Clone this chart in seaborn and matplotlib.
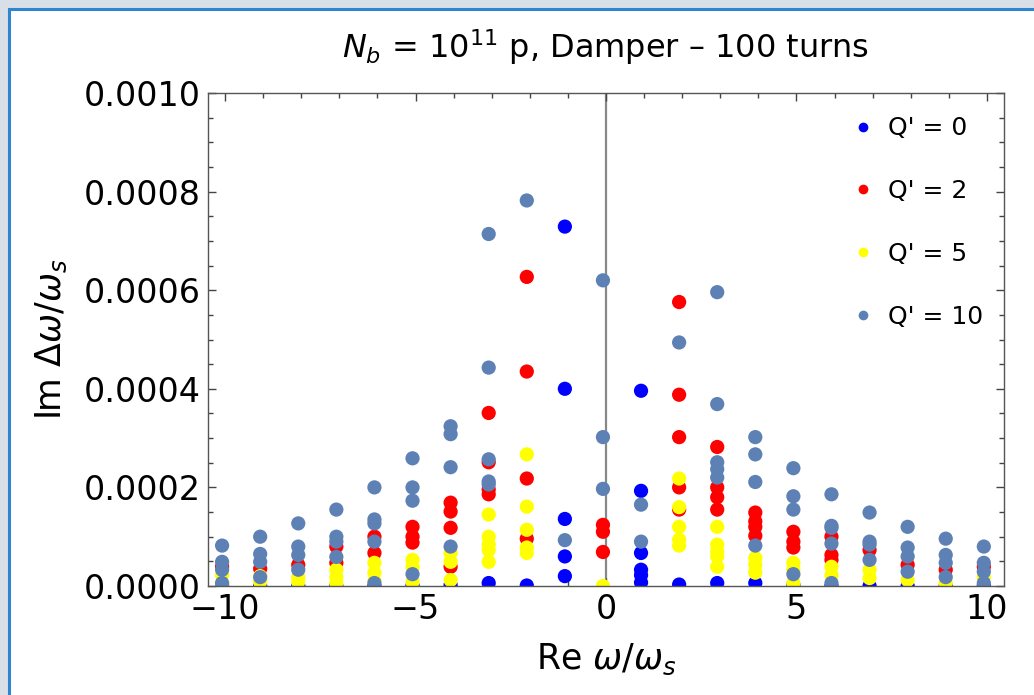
import matplotlib as mpl
import matplotlib.pyplot as plt
import numpy as np
import pandas as pd
import seaborn as sns
from matplotlib.lines import Line2D
from matplotlib.patches import Rectangle
from matplotlib.ticker import FormatStrFormatter, MultipleLocator

# Im values below are in units of 1e-4
IM_UNIT = 1e-4

# Q' = 0
re_q0 = [-10.08, -9.08, -8.08, -7.08, -6.08, -5.08, -4.08, -3.08, -2.08,
         -1.08, -1.08, -1.08, -1.08, -1.08,
         0.92, 0.92, 0.92, 0.92, 0.92, 0.92,
         1.92, 2.92, 3.92, 4.92, 5.92, 6.92, 7.92, 8.92, 9.92]
im_q0 = [0.0, 0.0, 0.0, 0.0, 0.0, 0.01, 0.02, 0.06, 0.01,
         7.29, 4.0, 1.36, 0.6, 0.2,
         3.96, 1.93, 0.67, 0.33, 0.22, 0.07,
         0.03, 0.06, 0.06, 0.02, 0.0, 0.0, 0.0, 0.0, 0.0]

# Q' = 2
re_q2 = [-10.08, -9.08, -8.08, -7.08, -7.08, -6.08, -6.08,
         -5.08, -5.08, -5.08, -4.08, -4.08, -4.08, -4.08,
         -3.08, -3.08, -3.08, -3.08, -2.08, -2.08, -2.08, -2.08,
         -0.08, -0.08, -0.08,
         1.92, 1.92, 1.92, 1.92, 1.92, 2.92, 2.92, 2.92, 2.92,
         3.92, 3.92, 3.92, 3.92, 4.92, 4.92, 4.92, 5.92, 5.92, 5.92,
         6.92, 7.92, 8.92, 9.92]
im_q2 = [0.39, 0.35, 0.43, 0.8, 0.47, 1.0, 0.67,
         1.2, 1.0, 0.88, 1.69, 1.51, 1.18, 0.39,
         3.51, 2.51, 1.96, 1.86, 6.27, 4.35, 2.18, 0.96,
         1.24, 1.1, 0.69,
         5.76, 3.88, 3.02, 2.0, 1.55, 2.82, 2.0, 1.8, 1.55,
         1.49, 1.31, 1.2, 1.02, 1.1, 0.9, 0.78, 1.0, 0.63, 0.53,
         0.73, 0.43, 0.33, 0.39]

# Q' = 5
re_q5 = [-10.08, -10.08, -9.08, -9.08, -8.08, -8.08, -7.08, -7.08, -7.08,
         -6.08, -6.08, -6.08, -5.08, -5.08, -5.08, -4.08, -4.08, -4.08,
         -3.08, -3.08, -3.08, -3.08, -3.08, -2.08, -2.08, -2.08, -2.08, -2.08,
         -0.08,
         1.92, 1.92, 1.92, 1.92, 1.92, 2.92, 2.92, 2.92, 2.92, 2.92,
         3.92, 3.92, 3.92, 4.92, 4.92, 4.92, 5.92, 5.92, 6.92, 6.92,
         7.92, 8.92, 9.92]
im_q5 = [0.22, 0.06, 0.2, 0.08, 0.18, 0.08, 0.33, 0.18, 0.06,
         0.47, 0.27, 0.1, 0.53, 0.39, 0.08, 0.67, 0.49, 0.12,
         1.45, 1.0, 0.84, 0.73, 0.49, 2.67, 1.61, 1.14, 0.78, 0.67,
         0.0,
         2.18, 1.6, 1.2, 0.94, 0.82, 1.2, 0.84, 0.7, 0.6, 0.39,
         0.57, 0.43, 0.27, 0.47, 0.33, 0.06, 0.39, 0.22, 0.33, 0.16,
         0.12, 0.06, 0.18]

# Q' = 10
re_q10 = [-10.08, -10.08, -10.08, -10.08, -9.08, -9.08, -9.08, -9.08,
          -8.08, -8.08, -8.08, -8.08, -7.08, -7.08, -7.08, -7.08,
          -6.08, -6.08, -6.08, -6.08, -6.08, -5.08, -5.08, -5.08, -5.08,
          -4.08, -4.08, -4.08, -4.08, -3.08, -3.08, -3.08, -3.08, -3.08,
          -2.08, -1.08, -0.08, -0.08, -0.08, 0.92, 0.92, 1.92,
          2.92, 2.92, 2.92, 2.92, 2.92, 3.92, 3.92, 3.92, 3.92,
          4.92, 4.92, 4.92, 4.92, 5.92, 5.92, 5.92, 5.92, 5.92,
          6.92, 6.92, 6.92, 6.92, 7.92, 7.92, 7.92, 7.92,
          8.92, 8.92, 8.92, 8.92, 9.92, 9.92, 9.92, 9.92]
im_q10 = [0.82, 0.49, 0.33, 0.06, 1.0, 0.65, 0.49, 0.18,
          1.27, 0.8, 0.63, 0.33, 1.55, 1.0, 0.9, 0.59,
          2.0, 1.35, 1.27, 0.9, 0.06, 2.59, 2.0, 1.73, 0.24,
          3.24, 3.08, 2.41, 0.8, 7.14, 4.43, 2.57, 2.12, 2.06,
          7.82, 0.93, 6.2, 3.02, 1.97, 1.65, 0.9, 4.94,
          5.96, 3.69, 2.51, 2.37, 2.2, 3.02, 2.67, 2.11, 0.82,
          2.39, 1.82, 1.55, 0.24, 1.86, 1.22, 1.18, 0.86, 0.06,
          1.49, 0.9, 0.84, 0.53, 1.2, 0.78, 0.6, 0.29,
          0.96, 0.63, 0.47, 0.18, 0.8, 0.47, 0.29, 0.06]

SERIES = ["Q' = 0", "Q' = 2", "Q' = 5", "Q' = 10"]
COLORS = ["#0000FF", "#FF0000", "#FFFF00", "#5E81B5"]


def build_frame():
    parts = []
    for name, re, im in zip(SERIES, [re_q0, re_q2, re_q5, re_q10],
                            [im_q0, im_q2, im_q5, im_q10]):
        parts.append(pd.DataFrame({"re": re, "im": np.array(im) * IM_UNIT, "series": name}))
    return pd.concat(parts, ignore_index=True)


def plot():
    df = build_frame()

    fig = plt.figure(figsize=(10.34, 6.95), dpi=100)
    fig.patch.set_facecolor("#D8DFE7")
    # notebook-style white panel with blue border
    fig.add_artist(Rectangle((8.5 / 1034, -0.1), 1.2, 1.1 - 9.5 / 695,
                             transform=fig.transFigure, facecolor="white",
                             edgecolor="#2E86CF", linewidth=2.2, zorder=-10))

    ax = fig.add_axes([208 / 1034, 1 - 586 / 695, 796 / 1034, 493 / 695])
    ax.axvline(0, color="#888888", lw=1.6, zorder=0.5)

    sns.scatterplot(data=df, x="re", y="im", hue="series", hue_order=SERIES,
                    palette=COLORS, s=105, linewidth=0, legend=False, ax=ax,
                    zorder=2)

    ax.set_xlim(-10.45, 10.45)
    ax.set_ylim(0, 0.001)
    ax.xaxis.set_major_locator(MultipleLocator(5))
    ax.xaxis.set_minor_locator(MultipleLocator(1))
    ax.yaxis.set_major_locator(MultipleLocator(0.0002))
    ax.yaxis.set_minor_locator(MultipleLocator(0.00005))
    ax.yaxis.set_major_formatter(FormatStrFormatter("%.4f"))
    ax.tick_params(which="both", direction="in", top=True, right=True,
                   color="#444444", width=1, labelsize=24)
    ax.tick_params(which="major", length=6, pad=5)
    ax.tick_params(which="minor", length=3.5)
    for sp in ax.spines.values():
        sp.set_color("#555555")
        sp.set_linewidth(1)

    ax.set_xlabel(r"Re $\omega/\omega_s$", fontsize=25, labelpad=11)
    ax.set_ylabel(r"Im $\Delta\omega/\omega_s$", fontsize=25, labelpad=11)
    ax.set_title(r"$N_b$ = 10$^{11}$ p, Damper – 100 turns", fontsize=23, pad=25)

    handles = [Line2D([], [], marker="o", linestyle="", color=c, markersize=7,
                      markeredgewidth=0) for c in COLORS]
    ax.legend(handles, SERIES, loc="upper left", bbox_to_anchor=(0.795, 0.973),
              frameon=False, fontsize=18, labelspacing=1.55, handletextpad=0.5,
              handlelength=1.0, borderaxespad=0)

    fig.savefig("out.png", dpi=100, facecolor=fig.get_facecolor())


if __name__ == "__main__":
    plot()
